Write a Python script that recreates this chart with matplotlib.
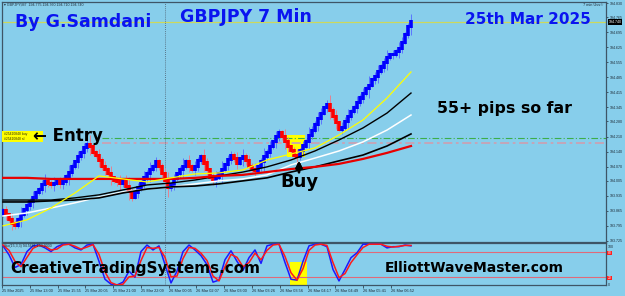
import numpy as np
import matplotlib
matplotlib.use("Agg")
import matplotlib.pyplot as plt
from matplotlib.patches import Rectangle

# ---------------- data ----------------
close = [193.864, 193.846, 193.823, 193.804, 193.799, 193.823, 193.846, 193.869, 193.888, 193.906,
         193.929, 193.948, 193.966, 193.985, 193.999, 193.994, 193.985, 193.994, 194.004, 193.990,
         193.999, 194.022, 194.045, 194.069, 194.092, 194.115, 194.134, 194.157, 194.175, 194.162,
         194.138, 194.120, 194.097, 194.073, 194.055, 194.036, 194.018, 194.004, 193.999, 193.990,
         194.004, 193.980, 193.953, 193.929, 193.948, 193.971, 193.994, 194.018, 194.036, 194.055,
         194.073, 194.092, 194.069, 194.036, 194.004, 193.971, 193.985, 194.013, 194.036, 194.055,
         194.073, 194.092, 194.073, 194.055, 194.069, 194.097, 194.115, 194.087, 194.055, 194.022,
         194.004, 194.018, 194.036, 194.055, 194.078, 194.101, 194.124, 194.106, 194.087, 194.106,
         194.115, 194.097, 194.073, 194.059, 194.050, 194.069, 194.092, 194.115, 194.138, 194.162,
         194.185, 194.208, 194.227, 194.208, 194.185, 194.162, 194.143, 194.124, 194.115, 194.143,
         194.166, 194.189, 194.217, 194.240, 194.268, 194.292, 194.319, 194.343, 194.361, 194.333,
         194.301, 194.273, 194.245, 194.254, 194.282, 194.301, 194.324, 194.347, 194.370, 194.389,
         194.412, 194.431, 194.449, 194.473, 194.491, 194.514, 194.533, 194.552, 194.575, 194.589,
         194.593, 194.603, 194.621, 194.649, 194.686, 194.719, 194.745]
first_open = 193.850

wick_half_pips = [3, 5, 2, 6, 4, 3, 7, 2, 5, 4,
                  6, 3, 2, 5, 7, 4, 3, 6, 2, 4,
                  5, 3, 7, 4, 2, 6, 3, 5, 4, 8,
                  3, 2, 6, 4, 5, 3, 7, 2, 4, 6,
                  3, 5, 8, 4, 2, 5, 3, 6, 4, 7,
                  2, 5, 3, 4, 6, 8, 3, 5, 2, 4,
                  7, 3, 6, 2, 5, 4, 3, 7, 5, 2,
                  4, 6, 3, 8, 2, 5, 4, 3, 6, 2,
                  7, 4, 5, 3, 6, 2, 4, 8, 3, 5,
                  2, 6, 4, 3, 7, 5, 2, 4, 6, 3,
                  5, 2, 7, 4, 3, 6, 5, 2, 4, 8,
                  3, 6, 2, 5, 4, 7, 3, 2, 6, 4,
                  5, 3, 8, 2, 4, 6, 3, 5, 7, 2,
                  4, 3, 6, 5, 2, 4, 7]

ma_idx = [0, 8, 16, 24, 32, 40, 48, 56, 64, 72, 80, 88, 96, 104, 112, 120, 128, 136]
ma_red = [194.018, 194.018, 194.013, 194.013, 194.013, 194.013, 194.013, 194.013, 194.018,
          194.027, 194.032, 194.045, 194.059, 194.069, 194.083, 194.106, 194.134, 194.166]
ma_black_fast = [193.915, 193.915, 193.915, 193.925, 193.939, 193.962, 193.985, 193.994, 194.008,
                 194.027, 194.045, 194.069, 194.101, 194.143, 194.194, 194.250, 194.319, 194.412]
ma_black_slow = [193.906, 193.906, 193.911, 193.915, 193.925, 193.948, 193.966, 193.976, 193.980,
                 193.990, 194.004, 194.018, 194.045, 194.069, 194.097, 194.124, 194.166, 194.222]
ma_white = [193.841, 193.855, 193.878, 193.902, 193.929, 193.953, 193.966, 193.976, 193.990,
            194.004, 194.013, 194.032, 194.078, 194.110, 194.143, 194.185, 194.240, 194.310]
ma_yellow = [193.795, 193.823, 193.878, 193.948, 194.027, 194.013, 193.999, 194.018, 194.036,
             194.041, 194.055, 194.101, 194.129, 194.157, 194.217, 194.287, 194.389, 194.510]

stoch_k = [96, 74, 43, 50, 82, 96, 98, 91, 82, 94,
           100, 100, 91, 86, 98, 100, 58, 14, 2, 0,
           7, 34, 19, 82, 98, 86, 96, 50, 5, 34,
           82, 98, 86, 72, 50, 7, 12, 62, 84, 58,
           36, 67, 86, 53, 96, 100, 100, 55, 14, 12,
           58, 96, 100, 100, 94, 38, 10, 38, 67, 79,
           100, 100, 100, 100, 91, 94, 94, 98, 96]
stoch_d = [98, 85, 58, 45, 68, 90, 97, 95, 86, 88,
           98, 100, 95, 88, 93, 99, 75, 32, 6, 0,
           2, 20, 22, 60, 92, 90, 92, 68, 20, 22,
           65, 92, 90, 78, 60, 22, 10, 45, 75, 68,
           45, 55, 78, 62, 85, 98, 100, 70, 30, 12,
           40, 85, 98, 100, 97, 55, 18, 28, 55, 74,
           92, 100, 100, 100, 95, 93, 95, 97, 97]

price_ticks = [194.830, 194.765, 194.695, 194.625, 194.555, 194.485, 194.415, 194.345, 194.280,
               194.210, 194.140, 194.070, 194.005, 193.935, 193.865, 193.795, 193.725]
time_labels = ["25 Mar 2025", "25 Mar 13:00", "25 Mar 15:55", "25 Mar 20:05", "25 Mar 21:00",
               "25 Mar 22:09", "26 Mar 00:05", "26 Mar 02:07", "26 Mar 03:00", "26 Mar 03:26",
               "26 Mar 03:56", "26 Mar 04:17", "26 Mar 04:49", "26 Mar 05:41", "26 Mar 06:52"]
bid_price = 194.740
entry_price = 194.203
sl_like_price = 194.180

# ---------------- layout ----------------
W, H = 625, 296
BG = "#87ceeb"
BLUE_TXT = "#0a14f0"
FRAME = "#3e5566"
SMALL = dict(family="Liberation Sans", color="#1e2a36")

fig = plt.figure(figsize=(W / 100, H / 100), dpi=100, facecolor=BG)


def rect(x0, y0, x1, y1):
    return [x0 / W, 1 - y1 / H, (x1 - x0) / W, (y1 - y0) / H]


def fx(x):
    return x / W


def fy(y):
    return 1 - y / H


ax = fig.add_axes(rect(2, 2, 606, 242), facecolor=BG)
axs = fig.add_axes(rect(2, 243, 606, 285), facecolor=BG, sharex=ax)

n = len(close)
xi = np.arange(n)
c = np.array(close)
o = np.concatenate([[first_open], c[:-1]])
w = np.array(wick_half_pips) * 0.005
hi = np.maximum(o, c) + w
lo = np.minimum(o, c) - w
up = c >= o
body_col = np.where(up, "#0000ff", "#ff0000")
wick_col = np.where(up, "#5a76ff", "#e58090")
pad = 0.007
b_lo = np.minimum(o, c) - pad
b_hi = np.maximum(o, c) + pad

ax.set_xlim(-1 / 3, 201)
ax.set_ylim(193.720, 194.835)

# yellow signal box behind candles
ax.add_patch(Rectangle((94.7, 194.115), 6.0, 0.102, facecolor="#ffff00", edgecolor="none", zorder=1))

ax.vlines(xi, lo, hi, colors=wick_col, lw=0.7, zorder=2)
ax.vlines(xi, b_lo, b_hi, colors=body_col, lw=2.6, zorder=3)

ax.plot(ma_idx, ma_white, color="white", lw=1.1, zorder=4)
ax.plot(ma_idx, ma_black_slow, color="black", lw=1.2, zorder=4)
ax.plot(ma_idx, ma_black_fast, color="black", lw=1.0, zorder=4)
ax.plot(ma_idx, ma_red, color="#e80000", lw=1.6, zorder=4)
ax.plot(ma_idx, ma_yellow, color="#ffff00", lw=0.9, zorder=4)

ax.axhline(bid_price, color="#cdd85c", lw=0.9, zorder=1)
ax.hlines(entry_price, 33, 201, colors="#3cae4a", linestyles=(0, (6, 2, 1, 2)), lw=0.8, zorder=1)
ax.hlines(sl_like_price, 33, 201, colors="#c9a2b4", linestyles=(0, (5, 2, 1.5, 2)), lw=1.3, zorder=1)
ax.axvline(54, color="#4a5a6a", ls=(0, (1, 1.5)), lw=0.6, zorder=1)

for sp in ax.spines.values():
    sp.set_color(FRAME)
    sp.set_linewidth(0.9)
ax.tick_params(axis="x", bottom=False, labelbottom=False)
ax.yaxis.tick_right()
ax.set_yticks(price_ticks)
ax.set_yticklabels([f"{v:.3f}" for v in price_ticks], family="Liberation Sans")
ax.tick_params(axis="y", length=1.5, width=0.5, pad=1, labelsize=2.6, colors="#1e2a36")

# current price box
fig.text(fx(608.5), fy(22), f"{bid_price:.3f}", fontsize=2.6, color="white", va="center", ha="left",
         family="Liberation Sans",
         bbox=dict(boxstyle="square,pad=0.15", facecolor="black", edgecolor="none"))

# ---------------- stochastic panel ----------------
sx = np.arange(0, n, 2)
axs.set_ylim(0, 103)
axs.add_patch(Rectangle((95.7, 0), 5.7, 56, facecolor="#ffff00", edgecolor="none", zorder=1))
axs.axhline(80, color="#e06a7a", lw=0.8, zorder=1)
axs.axhline(20, color="#e06a7a", lw=0.8, zorder=1)
axs.axvline(54, color="#4a5a6a", ls=(0, (1, 1.5)), lw=0.6, zorder=1)
axs.plot(sx, stoch_k, color="#1a1aff", lw=1.1, zorder=3)
axs.plot(sx, stoch_d, color="#ff1a1a", lw=1.1, zorder=4)
for sp in axs.spines.values():
    sp.set_color(FRAME)
    sp.set_linewidth(0.9)
axs.set_yticks([])
tick_pos = np.arange(len(time_labels)) * 9.26 - 0.33
axs.set_xticks(tick_pos)
axs.set_xticklabels(time_labels, ha="left", family="Liberation Sans")
axs.tick_params(axis="x", length=2, width=0.5, pad=1, labelsize=2.8, colors="#1e2a36")

fig.text(fx(4), fy(246.5), "Sto(15,3,3) 94.5681 100.0000", fontsize=2.6, va="center", **SMALL)
fig.text(fx(608), fy(247), "100", fontsize=2.6, va="center", **SMALL)
fig.text(fx(608), fy(285), "0", fontsize=2.6, va="center", **SMALL)
fig.text(fx(607.5), fy(253), "80", fontsize=2.4, color="#ffffff", va="center", family="Liberation Sans",
         bbox=dict(boxstyle="square,pad=0.1", facecolor="#ff2020", edgecolor="none"))
fig.text(fx(607.5), fy(278), "20", fontsize=2.4, color="#ffffff", va="center", family="Liberation Sans",
         bbox=dict(boxstyle="square,pad=0.1", facecolor="#ff2020", edgecolor="none"))

# ---------------- annotations ----------------
fig.text(fx(4), fy(5), "\u25be GBPJPY,M7  194.775 194.760 194.710 194.740", fontsize=2.6,
         va="center", family=["Liberation Sans", "DejaVu Sans"], color="#1e2a36")
fig.text(fx(603), fy(5), "7 min Uvs\u00a9", fontsize=2.8, va="center", ha="right", **SMALL)

bold = dict(fontweight="bold", family="DejaVu Sans")
fig.text(fx(15), fy(22), "By G.Samdani", fontsize=12.5, color=BLUE_TXT, va="center", ha="left", **bold)
fig.text(fx(180), fy(17), "GBPJPY 7 Min", fontsize=12.5, color=BLUE_TXT, va="center", ha="left", **bold)
fig.text(fx(465), fy(20), "25th Mar 2025", fontsize=11, color=BLUE_TXT, va="center", ha="left", **bold)
fig.text(fx(437), fy(108), "55+ pips so far", fontsize=11.3, color="black", va="center", ha="left", **bold)
fig.text(fx(33), fy(136), "\u2190 Entry", fontsize=12, color="black", va="center", ha="left", **bold)
fig.text(fx(299), fy(182), "Buy", fontsize=13, color="black", va="center", ha="center", **bold)
fig.text(fx(10), fy(268), "CreativeTradingSystems.com", fontsize=11, color="black", va="center",
         ha="left", **bold)
fig.text(fx(385), fy(268), "ElliottWaveMaster.com", fontsize=10, color="black", va="center",
         ha="left", **bold)

# up arrow at buy
fig.add_artist(plt.annotate("", xy=(fx(299), fy(158)), xytext=(fx(299), fy(175)),
                            xycoords="figure fraction", textcoords="figure fraction",
                            arrowprops=dict(arrowstyle="-|>", color="black", lw=1.8, mutation_scale=9)))

# entry label box
fig.add_artist(Rectangle((fx(2), fy(142)), 41 / W, 11 / H, transform=fig.transFigure,
                         facecolor="#ffff00", edgecolor="none"))
fig.text(fx(4), fy(134), "#25410848 buy", fontsize=2.4, color="#333300", va="center", family="Liberation Sans")
fig.text(fx(4), fy(139.5), "#25410848 sl", fontsize=2.4, color="#333300", va="center", family="Liberation Sans")

fig.savefig("out.png", dpi=100, facecolor=BG)
